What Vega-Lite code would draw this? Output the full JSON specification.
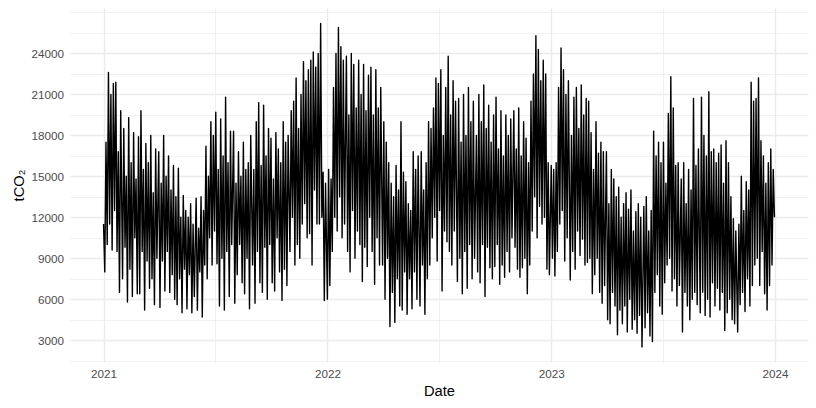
{
"$schema": "https://vega.github.io/schema/vega-lite/v6.json",
"width": 738, "height": 354,
"autosize": {"type": "none"},
"padding": {"left": 70, "top": 8, "right": 8, "bottom": 46},
"background": "white",
"config": {"view": {"stroke": null}, "font": "Liberation Sans"},
"datasets": {"series": [
{"d":"2021-01-01","v":11500},{"d":"2021-01-03","v":8000},{"d":"2021-01-05","v":17500},{"d":"2021-01-07","v":10000},{"d":"2021-01-09","v":22600},{"d":"2021-01-11","v":11500},{"d":"2021-01-13","v":21000},{"d":"2021-01-15","v":9600},{"d":"2021-01-17","v":21800},{"d":"2021-01-19","v":12500},{"d":"2021-01-21","v":21900},{"d":"2021-01-23","v":9500},{"d":"2021-01-25","v":16800},{"d":"2021-01-27","v":6500},{"d":"2021-01-29","v":19800},
{"d":"2021-02-01","v":7500},{"d":"2021-02-03","v":18500},{"d":"2021-02-05","v":9800},{"d":"2021-02-07","v":15000},{"d":"2021-02-09","v":5800},{"d":"2021-02-11","v":19300},{"d":"2021-02-13","v":8200},{"d":"2021-02-15","v":16000},{"d":"2021-02-17","v":6200},{"d":"2021-02-19","v":18200},{"d":"2021-02-21","v":10500},{"d":"2021-02-23","v":14800},{"d":"2021-02-25","v":6400},{"d":"2021-02-27","v":17900},
{"d":"2021-03-01","v":6400},{"d":"2021-03-03","v":19800},{"d":"2021-03-05","v":9500},{"d":"2021-03-07","v":15500},{"d":"2021-03-09","v":5200},{"d":"2021-03-11","v":17400},{"d":"2021-03-13","v":8800},{"d":"2021-03-15","v":16000},{"d":"2021-03-17","v":6800},{"d":"2021-03-19","v":18000},{"d":"2021-03-21","v":7500},{"d":"2021-03-23","v":13800},{"d":"2021-03-25","v":5600},{"d":"2021-03-27","v":17000},{"d":"2021-03-29","v":9000},
{"d":"2021-04-01","v":16800},{"d":"2021-04-03","v":5400},{"d":"2021-04-05","v":14500},{"d":"2021-04-07","v":8800},{"d":"2021-04-09","v":18000},{"d":"2021-04-11","v":6600},{"d":"2021-04-13","v":15000},{"d":"2021-04-15","v":9500},{"d":"2021-04-17","v":16500},{"d":"2021-04-19","v":6500},{"d":"2021-04-21","v":14000},{"d":"2021-04-23","v":7800},{"d":"2021-04-25","v":15800},{"d":"2021-04-27","v":6000},{"d":"2021-04-29","v":13500},
{"d":"2021-05-01","v":5600},{"d":"2021-05-03","v":15600},{"d":"2021-05-05","v":7500},{"d":"2021-05-07","v":12000},{"d":"2021-05-09","v":5000},{"d":"2021-05-11","v":13600},{"d":"2021-05-13","v":8200},{"d":"2021-05-15","v":12500},{"d":"2021-05-17","v":5300},{"d":"2021-05-19","v":12000},{"d":"2021-05-21","v":7800},{"d":"2021-05-23","v":13000},{"d":"2021-05-25","v":5000},{"d":"2021-05-27","v":11500},{"d":"2021-05-29","v":6200},
{"d":"2021-06-01","v":13400},{"d":"2021-06-03","v":5200},{"d":"2021-06-05","v":11200},{"d":"2021-06-07","v":8000},{"d":"2021-06-09","v":13500},{"d":"2021-06-11","v":4700},{"d":"2021-06-13","v":12500},{"d":"2021-06-15","v":8500},{"d":"2021-06-17","v":17200},{"d":"2021-06-19","v":7500},{"d":"2021-06-21","v":15000},{"d":"2021-06-23","v":10500},{"d":"2021-06-25","v":19000},{"d":"2021-06-27","v":8500},{"d":"2021-06-29","v":18000},
{"d":"2021-07-01","v":11000},{"d":"2021-07-03","v":19700},{"d":"2021-07-05","v":8600},{"d":"2021-07-07","v":15500},{"d":"2021-07-09","v":5500},{"d":"2021-07-11","v":19200},{"d":"2021-07-13","v":9000},{"d":"2021-07-15","v":16500},{"d":"2021-07-17","v":5200},{"d":"2021-07-19","v":20800},{"d":"2021-07-21","v":9500},{"d":"2021-07-23","v":16000},{"d":"2021-07-25","v":6200},{"d":"2021-07-27","v":18300},{"d":"2021-07-29","v":10000},
{"d":"2021-08-01","v":18300},{"d":"2021-08-03","v":5700},{"d":"2021-08-05","v":14500},{"d":"2021-08-07","v":7800},{"d":"2021-08-09","v":16800},{"d":"2021-08-11","v":10000},{"d":"2021-08-13","v":15000},{"d":"2021-08-15","v":7200},{"d":"2021-08-17","v":17500},{"d":"2021-08-19","v":6400},{"d":"2021-08-21","v":15500},{"d":"2021-08-23","v":9000},{"d":"2021-08-25","v":16000},{"d":"2021-08-27","v":5300},{"d":"2021-08-29","v":18000},
{"d":"2021-09-01","v":8500},{"d":"2021-09-03","v":15500},{"d":"2021-09-05","v":5700},{"d":"2021-09-07","v":19000},{"d":"2021-09-09","v":9500},{"d":"2021-09-11","v":20400},{"d":"2021-09-13","v":7200},{"d":"2021-09-15","v":15800},{"d":"2021-09-17","v":6500},{"d":"2021-09-19","v":20200},{"d":"2021-09-21","v":9800},{"d":"2021-09-23","v":16500},{"d":"2021-09-25","v":6000},{"d":"2021-09-27","v":18500},{"d":"2021-09-29","v":10000},
{"d":"2021-10-01","v":17800},{"d":"2021-10-03","v":7200},{"d":"2021-10-05","v":14800},{"d":"2021-10-07","v":6600},{"d":"2021-10-09","v":18200},{"d":"2021-10-11","v":10500},{"d":"2021-10-13","v":17000},{"d":"2021-10-15","v":8000},{"d":"2021-10-17","v":16000},{"d":"2021-10-19","v":5900},{"d":"2021-10-21","v":19000},{"d":"2021-10-23","v":8200},{"d":"2021-10-25","v":17500},{"d":"2021-10-27","v":7000},{"d":"2021-10-29","v":18000},
{"d":"2021-11-01","v":9500},{"d":"2021-11-03","v":19800},{"d":"2021-11-05","v":12000},{"d":"2021-11-07","v":20500},{"d":"2021-11-09","v":8500},{"d":"2021-11-11","v":22200},{"d":"2021-11-13","v":10000},{"d":"2021-11-15","v":18500},{"d":"2021-11-17","v":9000},{"d":"2021-11-19","v":21000},{"d":"2021-11-21","v":11500},{"d":"2021-11-23","v":23400},{"d":"2021-11-25","v":13000},{"d":"2021-11-27","v":22000},{"d":"2021-11-29","v":10500},
{"d":"2021-12-01","v":22800},{"d":"2021-12-03","v":10800},{"d":"2021-12-05","v":23500},{"d":"2021-12-07","v":8500},{"d":"2021-12-09","v":24100},{"d":"2021-12-11","v":14000},{"d":"2021-12-13","v":23000},{"d":"2021-12-15","v":11500},{"d":"2021-12-17","v":24000},{"d":"2021-12-19","v":11500},{"d":"2021-12-21","v":26200},{"d":"2021-12-23","v":12000},{"d":"2021-12-25","v":15300},{"d":"2021-12-27","v":5900},{"d":"2021-12-29","v":14500},
{"d":"2022-01-01","v":6000},{"d":"2022-01-03","v":15500},{"d":"2022-01-05","v":7000},{"d":"2022-01-07","v":14800},{"d":"2022-01-09","v":9500},{"d":"2022-01-11","v":21500},{"d":"2022-01-13","v":12000},{"d":"2022-01-15","v":24000},{"d":"2022-01-17","v":11000},{"d":"2022-01-19","v":25900},{"d":"2022-01-21","v":13500},{"d":"2022-01-23","v":24500},{"d":"2022-01-25","v":10500},{"d":"2022-01-27","v":23500},{"d":"2022-01-29","v":11500},
{"d":"2022-02-01","v":23800},{"d":"2022-02-03","v":9500},{"d":"2022-02-05","v":19500},{"d":"2022-02-07","v":8000},{"d":"2022-02-09","v":24000},{"d":"2022-02-11","v":12500},{"d":"2022-02-13","v":23200},{"d":"2022-02-15","v":9000},{"d":"2022-02-17","v":20000},{"d":"2022-02-19","v":11000},{"d":"2022-02-21","v":23500},{"d":"2022-02-23","v":10000},{"d":"2022-02-25","v":21000},{"d":"2022-02-27","v":7300},
{"d":"2022-03-01","v":23200},{"d":"2022-03-03","v":9800},{"d":"2022-03-05","v":19800},{"d":"2022-03-07","v":8400},{"d":"2022-03-09","v":22400},{"d":"2022-03-11","v":12000},{"d":"2022-03-13","v":23000},{"d":"2022-03-15","v":9500},{"d":"2022-03-17","v":19500},{"d":"2022-03-19","v":7100},{"d":"2022-03-21","v":22800},{"d":"2022-03-23","v":10500},{"d":"2022-03-25","v":20000},{"d":"2022-03-27","v":8500},{"d":"2022-03-29","v":21500},
{"d":"2022-04-01","v":8500},{"d":"2022-04-03","v":19000},{"d":"2022-04-05","v":6000},{"d":"2022-04-07","v":17500},{"d":"2022-04-09","v":9000},{"d":"2022-04-11","v":16000},{"d":"2022-04-13","v":4000},{"d":"2022-04-15","v":14500},{"d":"2022-04-17","v":6500},{"d":"2022-04-19","v":13500},{"d":"2022-04-21","v":4300},{"d":"2022-04-23","v":15800},{"d":"2022-04-25","v":7500},{"d":"2022-04-27","v":14000},{"d":"2022-04-29","v":5500},
{"d":"2022-05-01","v":19000},{"d":"2022-05-03","v":5200},{"d":"2022-05-05","v":15300},{"d":"2022-05-07","v":8000},{"d":"2022-05-09","v":14600},{"d":"2022-05-11","v":4900},{"d":"2022-05-13","v":13000},{"d":"2022-05-15","v":7500},{"d":"2022-05-17","v":12500},{"d":"2022-05-19","v":5300},{"d":"2022-05-21","v":16800},{"d":"2022-05-23","v":8000},{"d":"2022-05-25","v":15500},{"d":"2022-05-27","v":6000},{"d":"2022-05-29","v":16500},
{"d":"2022-06-01","v":5500},{"d":"2022-06-03","v":16800},{"d":"2022-06-05","v":8500},{"d":"2022-06-07","v":14000},{"d":"2022-06-09","v":4900},{"d":"2022-06-11","v":16000},{"d":"2022-06-13","v":7500},{"d":"2022-06-15","v":19000},{"d":"2022-06-17","v":8500},{"d":"2022-06-19","v":18500},{"d":"2022-06-21","v":10500},{"d":"2022-06-23","v":20000},{"d":"2022-06-25","v":12000},{"d":"2022-06-27","v":22200},{"d":"2022-06-29","v":8800},
{"d":"2022-07-01","v":21800},{"d":"2022-07-03","v":12500},{"d":"2022-07-05","v":22800},{"d":"2022-07-07","v":6600},{"d":"2022-07-09","v":18000},{"d":"2022-07-11","v":11000},{"d":"2022-07-13","v":21500},{"d":"2022-07-15","v":10200},{"d":"2022-07-17","v":23800},{"d":"2022-07-19","v":9500},{"d":"2022-07-21","v":19500},{"d":"2022-07-23","v":8500},{"d":"2022-07-25","v":22000},{"d":"2022-07-27","v":11000},{"d":"2022-07-29","v":20500},
{"d":"2022-08-01","v":7300},{"d":"2022-08-03","v":20700},{"d":"2022-08-05","v":9000},{"d":"2022-08-07","v":17500},{"d":"2022-08-09","v":6400},{"d":"2022-08-11","v":21000},{"d":"2022-08-13","v":9500},{"d":"2022-08-15","v":18000},{"d":"2022-08-17","v":6800},{"d":"2022-08-19","v":21500},{"d":"2022-08-21","v":10000},{"d":"2022-08-23","v":19000},{"d":"2022-08-25","v":7500},{"d":"2022-08-27","v":20500},{"d":"2022-08-29","v":9000},
{"d":"2022-09-01","v":18000},{"d":"2022-09-03","v":8000},{"d":"2022-09-05","v":21000},{"d":"2022-09-07","v":7200},{"d":"2022-09-09","v":19000},{"d":"2022-09-11","v":10000},{"d":"2022-09-13","v":21700},{"d":"2022-09-15","v":6200},{"d":"2022-09-17","v":18500},{"d":"2022-09-19","v":9800},{"d":"2022-09-21","v":20200},{"d":"2022-09-23","v":8300},{"d":"2022-09-25","v":17500},{"d":"2022-09-27","v":7500},{"d":"2022-09-29","v":19500},
{"d":"2022-10-01","v":8400},{"d":"2022-10-03","v":20800},{"d":"2022-10-05","v":10000},{"d":"2022-10-07","v":17000},{"d":"2022-10-09","v":7100},{"d":"2022-10-11","v":19800},{"d":"2022-10-13","v":8500},{"d":"2022-10-15","v":16500},{"d":"2022-10-17","v":7600},{"d":"2022-10-19","v":19500},{"d":"2022-10-21","v":9500},{"d":"2022-10-23","v":18000},{"d":"2022-10-25","v":8000},{"d":"2022-10-27","v":19200},{"d":"2022-10-29","v":10500},
{"d":"2022-11-01","v":19800},{"d":"2022-11-03","v":9800},{"d":"2022-11-05","v":17000},{"d":"2022-11-07","v":8200},{"d":"2022-11-09","v":20000},{"d":"2022-11-11","v":7600},{"d":"2022-11-13","v":16500},{"d":"2022-11-15","v":8300},{"d":"2022-11-17","v":19000},{"d":"2022-11-19","v":9000},{"d":"2022-11-21","v":17800},{"d":"2022-11-23","v":6400},{"d":"2022-11-25","v":16000},{"d":"2022-11-27","v":8500},{"d":"2022-11-29","v":20500},
{"d":"2022-12-01","v":11000},{"d":"2022-12-03","v":22500},{"d":"2022-12-05","v":13500},{"d":"2022-12-07","v":25300},{"d":"2022-12-09","v":10500},{"d":"2022-12-11","v":24300},{"d":"2022-12-13","v":12800},{"d":"2022-12-15","v":22000},{"d":"2022-12-17","v":11500},{"d":"2022-12-19","v":23500},{"d":"2022-12-21","v":12000},{"d":"2022-12-23","v":22500},{"d":"2022-12-25","v":8200},{"d":"2022-12-27","v":16000},{"d":"2022-12-29","v":7800},
{"d":"2023-01-01","v":15800},{"d":"2023-01-03","v":9000},{"d":"2023-01-05","v":15500},{"d":"2023-01-07","v":7700},{"d":"2023-01-09","v":16000},{"d":"2023-01-11","v":9500},{"d":"2023-01-13","v":21500},{"d":"2023-01-15","v":11500},{"d":"2023-01-17","v":24400},{"d":"2023-01-19","v":12500},{"d":"2023-01-21","v":22800},{"d":"2023-01-23","v":8800},{"d":"2023-01-25","v":21000},{"d":"2023-01-27","v":10500},{"d":"2023-01-29","v":22000},
{"d":"2023-02-01","v":7400},{"d":"2023-02-03","v":18000},{"d":"2023-02-05","v":9500},{"d":"2023-02-07","v":20800},{"d":"2023-02-09","v":8200},{"d":"2023-02-11","v":21500},{"d":"2023-02-13","v":11000},{"d":"2023-02-15","v":18500},{"d":"2023-02-17","v":9200},{"d":"2023-02-19","v":21700},{"d":"2023-02-21","v":10400},{"d":"2023-02-23","v":19500},{"d":"2023-02-25","v":8500},{"d":"2023-02-27","v":20700},
{"d":"2023-03-01","v":8700},{"d":"2023-03-03","v":20500},{"d":"2023-03-05","v":9000},{"d":"2023-03-07","v":18200},{"d":"2023-03-09","v":6400},{"d":"2023-03-11","v":15500},{"d":"2023-03-13","v":7800},{"d":"2023-03-15","v":19000},{"d":"2023-03-17","v":9000},{"d":"2023-03-19","v":16700},{"d":"2023-03-21","v":6500},{"d":"2023-03-23","v":17500},{"d":"2023-03-25","v":5700},{"d":"2023-03-27","v":16800},{"d":"2023-03-29","v":7000},
{"d":"2023-04-01","v":16800},{"d":"2023-04-03","v":4500},{"d":"2023-04-05","v":13000},{"d":"2023-04-07","v":4200},{"d":"2023-04-09","v":15500},{"d":"2023-04-11","v":6500},{"d":"2023-04-13","v":14800},{"d":"2023-04-15","v":5500},{"d":"2023-04-17","v":13500},{"d":"2023-04-19","v":3400},{"d":"2023-04-21","v":14200},{"d":"2023-04-23","v":5200},{"d":"2023-04-25","v":12000},{"d":"2023-04-27","v":4200},{"d":"2023-04-29","v":13000},
{"d":"2023-05-01","v":5500},{"d":"2023-05-03","v":13800},{"d":"2023-05-05","v":3600},{"d":"2023-05-07","v":12600},{"d":"2023-05-09","v":6000},{"d":"2023-05-11","v":14000},{"d":"2023-05-13","v":3800},{"d":"2023-05-15","v":11000},{"d":"2023-05-17","v":4500},{"d":"2023-05-19","v":12400},{"d":"2023-05-21","v":3500},{"d":"2023-05-23","v":13000},{"d":"2023-05-25","v":4800},{"d":"2023-05-27","v":12000},{"d":"2023-05-29","v":2500},
{"d":"2023-06-01","v":12800},{"d":"2023-06-03","v":3900},{"d":"2023-06-05","v":13500},{"d":"2023-06-07","v":5000},{"d":"2023-06-09","v":11000},{"d":"2023-06-11","v":3300},{"d":"2023-06-13","v":12500},{"d":"2023-06-15","v":2900},{"d":"2023-06-17","v":18300},{"d":"2023-06-19","v":6500},{"d":"2023-06-21","v":16500},{"d":"2023-06-23","v":7800},{"d":"2023-06-25","v":17500},{"d":"2023-06-27","v":5500},{"d":"2023-06-29","v":16000},
{"d":"2023-07-01","v":4900},{"d":"2023-07-03","v":17500},{"d":"2023-07-05","v":7200},{"d":"2023-07-07","v":14500},{"d":"2023-07-09","v":8500},{"d":"2023-07-11","v":19600},{"d":"2023-07-13","v":9000},{"d":"2023-07-15","v":22300},{"d":"2023-07-17","v":6600},{"d":"2023-07-19","v":20000},{"d":"2023-07-21","v":7500},{"d":"2023-07-23","v":15800},{"d":"2023-07-25","v":5500},{"d":"2023-07-27","v":16000},{"d":"2023-07-29","v":7000},
{"d":"2023-08-01","v":14800},{"d":"2023-08-03","v":3600},{"d":"2023-08-05","v":16000},{"d":"2023-08-07","v":6500},{"d":"2023-08-09","v":13000},{"d":"2023-08-11","v":5500},{"d":"2023-08-13","v":15500},{"d":"2023-08-15","v":4500},{"d":"2023-08-17","v":14000},{"d":"2023-08-19","v":6000},{"d":"2023-08-21","v":20700},{"d":"2023-08-23","v":6500},{"d":"2023-08-25","v":15800},{"d":"2023-08-27","v":5600},{"d":"2023-08-29","v":17000},
{"d":"2023-09-01","v":5000},{"d":"2023-09-03","v":20800},{"d":"2023-09-05","v":6500},{"d":"2023-09-07","v":18000},{"d":"2023-09-09","v":4800},{"d":"2023-09-11","v":16500},{"d":"2023-09-13","v":6000},{"d":"2023-09-15","v":21200},{"d":"2023-09-17","v":4700},{"d":"2023-09-19","v":16800},{"d":"2023-09-21","v":7200},{"d":"2023-09-23","v":17000},{"d":"2023-09-25","v":5500},{"d":"2023-09-27","v":16000},{"d":"2023-09-29","v":6800},
{"d":"2023-10-01","v":16700},{"d":"2023-10-03","v":5200},{"d":"2023-10-05","v":17300},{"d":"2023-10-07","v":6500},{"d":"2023-10-09","v":14500},{"d":"2023-10-11","v":3700},{"d":"2023-10-13","v":17600},{"d":"2023-10-15","v":5000},{"d":"2023-10-17","v":16000},{"d":"2023-10-19","v":6000},{"d":"2023-10-21","v":13500},{"d":"2023-10-23","v":4500},{"d":"2023-10-25","v":11900},{"d":"2023-10-27","v":4200},{"d":"2023-10-29","v":11000},
{"d":"2023-11-01","v":3600},{"d":"2023-11-03","v":11500},{"d":"2023-11-05","v":5600},{"d":"2023-11-07","v":15000},{"d":"2023-11-09","v":6500},{"d":"2023-11-11","v":12500},{"d":"2023-11-13","v":5100},{"d":"2023-11-15","v":14600},{"d":"2023-11-17","v":7500},{"d":"2023-11-19","v":14000},{"d":"2023-11-21","v":5500},{"d":"2023-11-23","v":21900},{"d":"2023-11-25","v":7000},{"d":"2023-11-27","v":20500},{"d":"2023-11-29","v":8500},
{"d":"2023-12-01","v":20700},{"d":"2023-12-03","v":9000},{"d":"2023-12-05","v":22200},{"d":"2023-12-07","v":7000},{"d":"2023-12-09","v":17600},{"d":"2023-12-11","v":9500},{"d":"2023-12-13","v":16500},{"d":"2023-12-15","v":6400},{"d":"2023-12-17","v":14500},{"d":"2023-12-19","v":5200},{"d":"2023-12-21","v":16000},{"d":"2023-12-23","v":7000},{"d":"2023-12-25","v":17000},{"d":"2023-12-27","v":8500},{"d":"2023-12-29","v":15500},{"d":"2023-12-31","v":12000}
]},
"data": {"name": "series"},
"resolve": {"axis": {"x": "independent", "y": "independent"}},
"layer": [
{
"mark": {"type": "point", "opacity": 0},
"encoding": {
"x": {"field": "d", "type": "temporal",
"scale": {"type": "utc", "domain": [{"year": 2020, "month": 11, "date": 7, "hours": 7, "minutes": 12, "utc": true}, {"year": 2024, "month": 2, "date": 23, "hours": 16, "minutes": 48, "utc": true}]},
"axis": {"orient": "bottom", "title": null, "labels": false, "ticks": false, "domain": false, "grid": true, "gridColor": "#ebebeb", "gridWidth": 0.7,
"values": [{"year": 2021, "month": 7, "date": 2, "hours": 12, "utc": true}, {"year": 2022, "month": 7, "date": 2, "hours": 12, "utc": true}, {"year": 2023, "month": 7, "date": 2, "hours": 12, "utc": true}]}},
"y": {"field": "v", "type": "quantitative",
"scale": {"domain": [1400, 27328], "nice": false, "zero": false},
"axis": {"orient": "left", "title": null, "labels": false, "ticks": false, "domain": false, "grid": true, "gridColor": "#ebebeb", "gridWidth": 0.7,
"values": [1500, 4500, 7500, 10500, 13500, 16500, 19500, 22500, 25500, 27000]}}
}
},
{
"mark": {"type": "line", "color": "black", "strokeWidth": 1.4, "strokeJoin": "round", "clip": true},
"encoding": {
"x": {"field": "d", "type": "temporal",
"axis": {"orient": "bottom", "title": "Date", "format": "%Y", "ticks": false, "domain": false, "grid": true, "gridColor": "#ebebeb", "gridWidth": 1.4,
"values": [{"year": 2021, "month": 1, "date": 1, "utc": true}, {"year": 2022, "month": 1, "date": 1, "utc": true}, {"year": 2023, "month": 1, "date": 1, "utc": true}, {"year": 2024, "month": 1, "date": 1, "utc": true}],
"labelColor": "#4d4d4d", "labelFontSize": 11.7, "labelPadding": 6, "labelFont": "Liberation Sans",
"titleFontSize": 14.7, "titleFontWeight": "normal", "titleColor": "#000000", "titlePadding": 4, "titleFont": "Liberation Sans"}},
"y": {"field": "v", "type": "quantitative",
"axis": {"orient": "left", "title": "tCO₂", "ticks": false, "domain": false, "grid": true, "gridColor": "#ebebeb", "gridWidth": 1.4,
"values": [3000, 6000, 9000, 12000, 15000, 18000, 21000, 24000], "format": "d",
"labelColor": "#4d4d4d", "labelFontSize": 11.7, "labelPadding": 6.5, "labelFont": "Liberation Sans",
"titleFontSize": 14.7, "titleFontWeight": "normal", "titleColor": "#000000", "titlePadding": 4, "titleFont": "Liberation Sans"}}
}
}
]
}
